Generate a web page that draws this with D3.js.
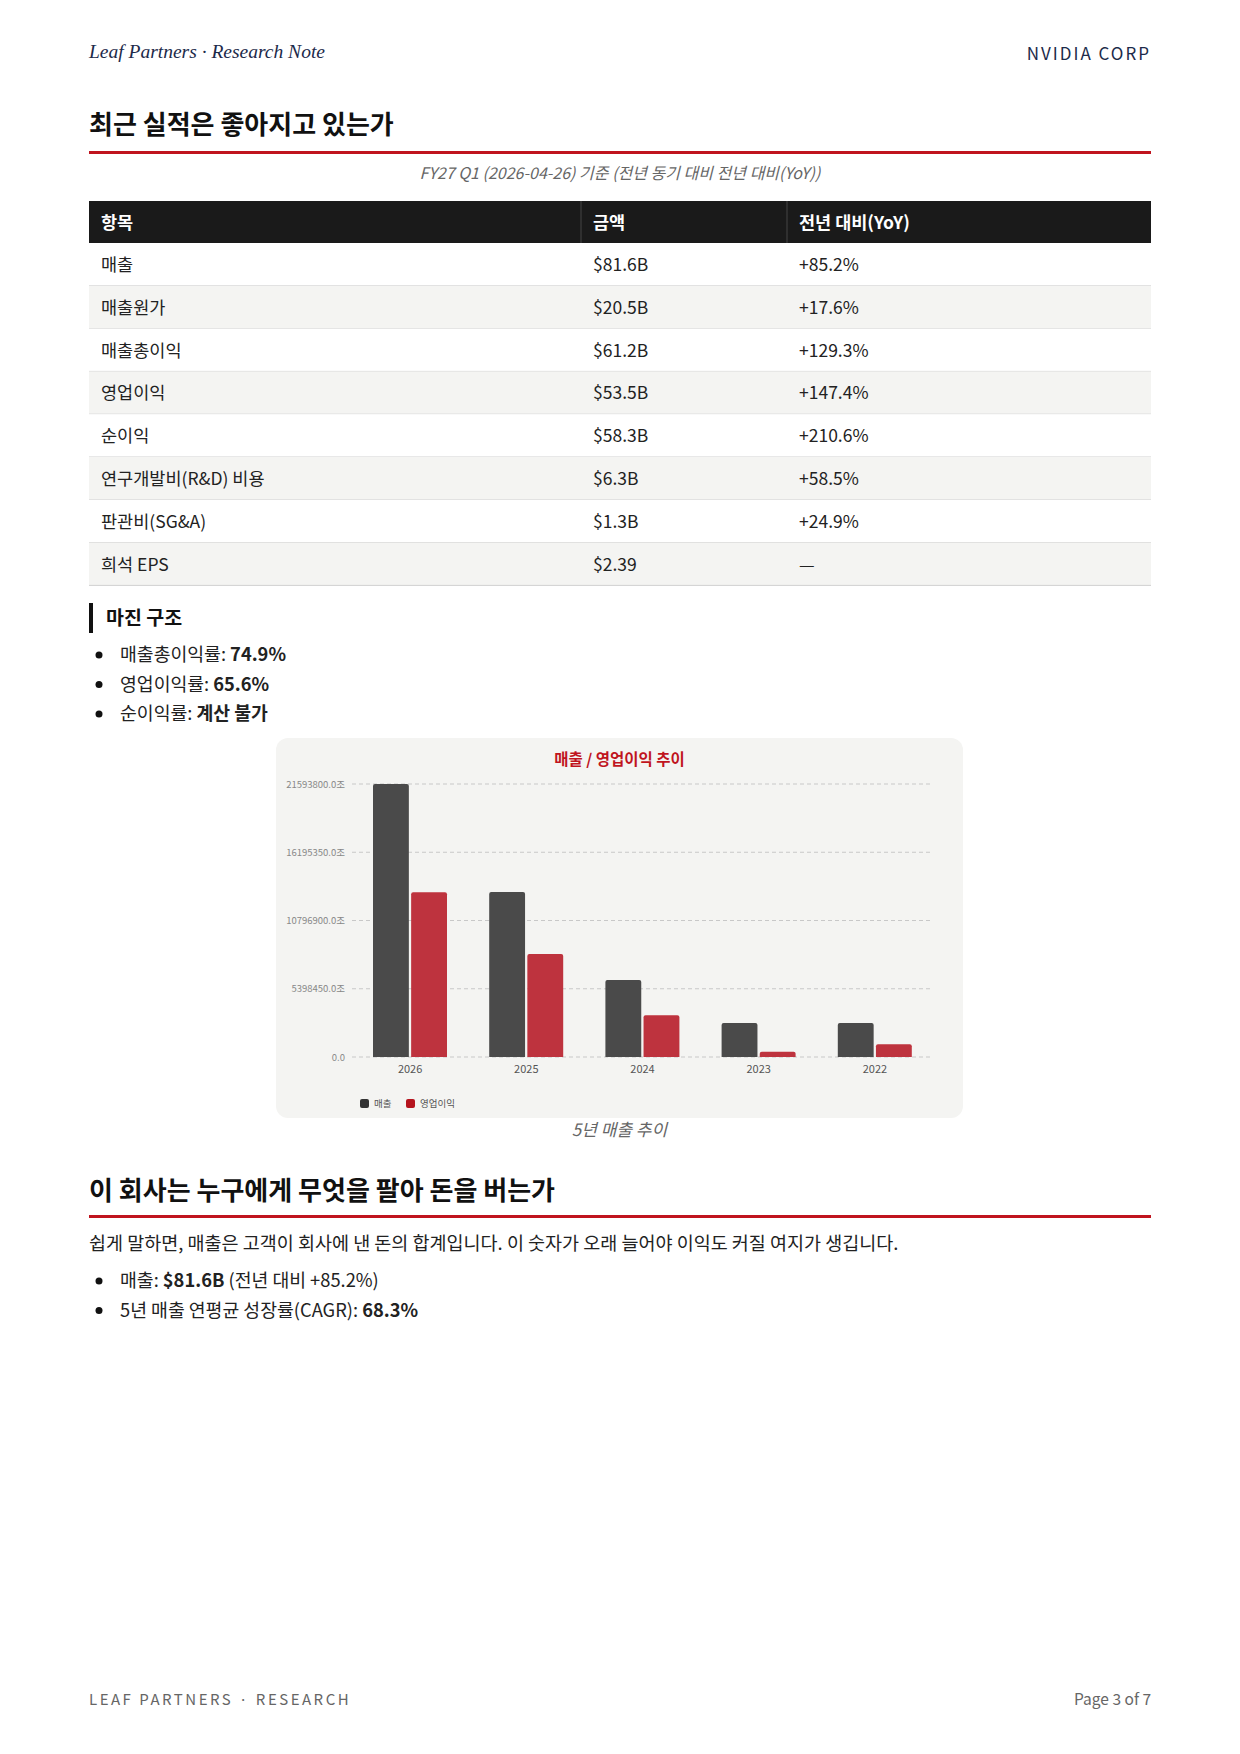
<!DOCTYPE html>
<html><head><meta charset="utf-8">
<script src="https://cdn.jsdelivr.net/npm/d3@7"></script>
<style>body{margin:0;background:#fff}svg{display:block;font-family:"Noto Sans CJK KR","Noto Sans",sans-serif}</style>
</head><body><svg id="p" width="1240" height="1754"></svg>
<script>
const years=["2026","2025","2024","2023","2022"];
const revenue=[21593800,13049700,6092200,2697400,2691400];
const opIncome=[13040000,8145300,3297200,422400,1004100];
const yTicks=[0,5398450,10796900,16195350,21593800];
const tableHead=["항목","금액","전년 대비(YoY)"];
const tableItems=["매출","매출원가","매출총이익","영업이익","순이익","연구개발비(R&D) 비용","판관비(SG&A)","희석 EPS"];
const tableAmounts=["$81.6B","$20.5B","$61.2B","$53.5B","$58.3B","$6.3B","$1.3B","$2.39"];
const tableYoY=["+85.2%","+17.6%","+129.3%","+147.4%","+210.6%","+58.5%","+24.9%","—"];

const svg=d3.select("#p");
const L=89,R=1151;
function t(x,y,s,o={}){const e=svg.append("text").attr("x",x).attr("y",y).text(s)
 .attr("font-size",o.size||18).attr("fill",o.fill||"#222").attr("font-weight",o.w||400)
 .attr("text-anchor",o.a||"start");if(o.family)e.attr("font-family",o.family);if(o.italic)e.attr("font-style","italic");if(o.ls)e.attr("letter-spacing",o.ls);return e;}

t(L,58,"Leaf Partners · Research Note",{family:"Liberation Serif",italic:1,size:19.5,fill:"#1c2a4a"});
t(R,60,"NVIDIA CORP",{a:"end",size:17,fill:"#1c2a4a",ls:2});

t(L,134,"최근 실적은 좋아지고 있는가",{size:26,w:700,fill:"#111"});
svg.append("rect").attr("x",L).attr("y",151).attr("width",R-L).attr("height",3).attr("fill","#c0141e");
t((L+R)/2,179,"FY27 Q1 (2026-04-26) 기준 (전년 동기 대비 전년 대비(YoY))",{a:"middle",size:16,fill:"#666",italic:1});

// table
const cols=[L,581,787,R];
const tTop=201,hH=42,rH=42.8;
svg.append("rect").attr("x",L).attr("y",tTop).attr("width",R-L).attr("height",hH).attr("fill","#1a1a1a");
[581,787].forEach(x=>svg.append("line").attr("x1",x).attr("x2",x).attr("y1",tTop).attr("y2",tTop+hH).attr("stroke","#444"));
tableHead.forEach((h,i)=>t(cols[i]+12,tTop+28,h,{fill:"#fff",w:700,size:17.5}));
tableItems.forEach((it,i)=>{
 const y=tTop+hH+i*rH;
 svg.append("rect").attr("x",L).attr("y",y).attr("width",R-L).attr("height",rH).attr("fill",i%2?"#f4f4f2":"#fff");
 svg.append("line").attr("x1",L).attr("x2",R).attr("y1",y+rH).attr("y2",y+rH).attr("stroke","#d0d0d0");
 [it,tableAmounts[i],tableYoY[i]].forEach((s,j)=>t(cols[j]+12,y+28,s,{size:17.5,fill:"#222"}));
});

// margin section
svg.append("rect").attr("x",L).attr("y",603).attr("width",4).attr("height",30).attr("fill","#111");
t(106,625,"마진 구조",{size:19.5,w:700,fill:"#111"});
const bul=[["매출총이익률: ","74.9%"],["영업이익률: ","65.6%"],["순이익률: ","계산 불가"]];
bul.forEach((b,i)=>{const y=661+i*29.5;
 svg.append("circle").attr("cx",99).attr("cy",y-6).attr("r",3.5).attr("fill","#111");
 const e=t(120,y,b[0],{size:18.3});e.append("tspan").attr("font-weight",700).text(b[1]);});

// chart
const bx=276,by=738,bw=687,bh=380;
svg.append("rect").attr("x",bx).attr("y",by).attr("width",bw).attr("height",bh).attr("rx",12).attr("fill","#f4f4f2");
t(bx+bw/2,765,"매출 / 영업이익 추이",{a:"middle",size:15.5,w:700,fill:"#c0141e"});
const x0=d3.scaleBand().domain(years).range([352,933]);
const x1=d3.scaleBand().domain(["r","o"]).range([21,95]).paddingInner(0.06);
const y=d3.scaleLinear().domain([0,21593800]).range([1057,784]);
const g=svg.append("g");
g.selectAll(".gl").data(yTicks).join("line").attr("x1",352).attr("x2",933)
 .attr("y1",d=>y(d)).attr("y2",d=>y(d)).attr("stroke","#c8c8c8").attr("stroke-dasharray","4,3");
g.selectAll(".yt").data(yTicks).join("text").attr("x",345).attr("y",d=>y(d)+3.5).attr("text-anchor","end")
 .attr("font-size",9.5).attr("fill","#888").text(d=>d3.format(".1f")(d)+(d?"조":""));
const cols2={r:"#4a4a4a",o:"#be333e"};
years.forEach((yr,i)=>{
 [["r",revenue[i]],["o",opIncome[i]]].forEach(([k,v])=>{
  const xx=x0(yr)+x1(k);
  g.append("path").attr("fill",cols2[k]).attr("d",`M${xx},1057V${y(v)+2}q0,-2 2,-2h${x1.bandwidth()-4}q2,0 2,2V1057Z`);
 });
 g.append("text").attr("x",x0(yr)+x0.bandwidth()/2).attr("y",1073).attr("text-anchor","middle").attr("font-size",11).attr("fill","#555").text(yr);
});
[["매출","#333",360],["영업이익","#b5141e",406]].forEach(([n,c,x])=>{
 g.append("rect").attr("x",x).attr("y",1099).attr("width",9).attr("height",9).attr("rx",2).attr("fill",c);
 g.append("text").attr("x",x+14).attr("y",1107).attr("font-size",9.5).attr("fill","#555").text(n);
});
t(bx+bw/2,1136,"5년 매출 추이",{a:"middle",size:17,fill:"#666",italic:1});

// section 2
t(L,1200,"이 회사는 누구에게 무엇을 팔아 돈을 버는가",{size:26,w:700,fill:"#111"});
svg.append("rect").attr("x",L).attr("y",1215).attr("width",R-L).attr("height",3).attr("fill","#c0141e");
t(L,1250,"쉽게 말하면, 매출은 고객이 회사에 낸 돈의 합계입니다. 이 숫자가 오래 늘어야 이익도 커질 여지가 생깁니다.",{size:18.5});
const b2=[["매출: ","$81.6B"," (전년 대비 +85.2%)"],["5년 매출 연평균 성장률(CAGR): ","68.3%",""]];
b2.forEach((b,i)=>{const yy=1287+i*29.5;
 svg.append("circle").attr("cx",99).attr("cy",yy-6).attr("r",3.5).attr("fill","#111");
 const e=t(120,yy,b[0],{size:18.3});e.append("tspan").attr("font-weight",700).text(b[1]);e.append("tspan").text(b[2]);});

t(L,1705,"LEAF PARTNERS · RESEARCH",{size:15,fill:"#666",ls:2.5});
t(R,1705,"Page 3 of 7",{a:"end",size:15.5,fill:"#666"});
</script></body></html>
